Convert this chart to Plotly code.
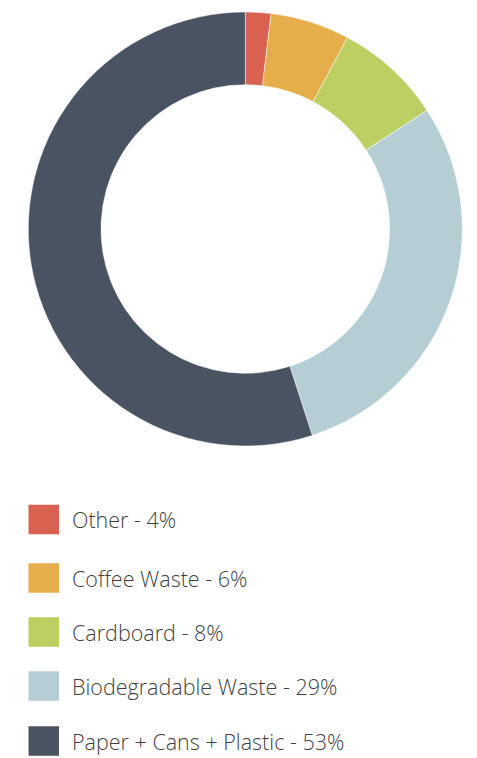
import plotly.graph_objects as go

W, H = 477, 758

categories = ["Other", "Coffee Waste", "Cardboard", "Biodegradable Waste", "Paper + Cans + Plastic"]
values = [1.9, 5.9, 8.0, 29.2, 55.0]
legend_pct = ["4%", "6%", "8%", "29%", "53%"]
colors = ["#d9614f", "#e5ae4a", "#bccf62", "#b4ced4", "#4a5361"]

cx, cy, r_out = 245.3, 229.0, 217.0
hole = 0.665

fig = go.Figure(go.Pie(
    labels=categories,
    values=values,
    sort=False,
    direction="clockwise",
    rotation=0,
    hole=hole,
    marker=dict(colors=colors, line=dict(color="white", width=0.5)),
    textinfo="none",
    hoverinfo="label+percent",
    showlegend=False,
    domain=dict(x=[(cx - r_out) / W, (cx + r_out) / W],
                y=[1 - (cy + r_out) / H, 1 - (cy - r_out) / H]),
))

row_y = [519.5, 578, 632, 686, 741]
sq_x0, sq_x1, sq_h = 28.5, 59.0, 29.5
text_x = 69.5
shapes, annots = [], []
for i, (cat, pct, col) in enumerate(zip(categories, legend_pct, colors)):
    yc = row_y[i]
    shapes.append(dict(type="rect", xref="paper", yref="paper",
                       x0=sq_x0 / W, x1=sq_x1 / W,
                       y0=1 - (yc + sq_h / 2) / H, y1=1 - (yc - sq_h / 2) / H,
                       fillcolor=col, line=dict(width=0)))
    annots.append(dict(xref="paper", yref="paper", x=text_x / W, y=1 - yc / H,
                       xanchor="left", yanchor="middle", showarrow=False,
                       text=f"{cat} - {pct}",
                       font=dict(family="Open Sans", size=21.5, color="#3f3f3f", weight=300)))

fig.update_layout(
    width=W, height=H,
    margin=dict(l=0, r=0, t=0, b=0),
    paper_bgcolor="white", plot_bgcolor="white",
    shapes=shapes, annotations=annots,
)

fig.write_html("out.html")
